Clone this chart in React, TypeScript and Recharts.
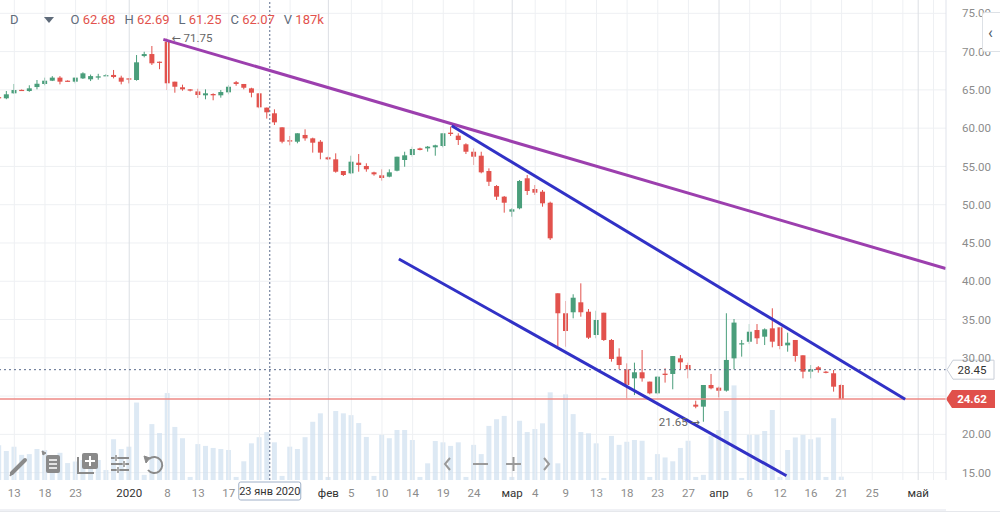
import {
  ComposedChart,
  Bar,
  XAxis,
  YAxis,
  CartesianGrid,
  ReferenceLine,
  ReferenceDot,
} from "recharts";

// daily candles (index 0 = leftmost, partly cut off)
const openP = [
  64.05, 63.9, 64.55, 65.0, 64.85, 65.37, 65.77, 66.2, 66.6, 66.2,
  66.07, 66.5, 66.38, 66.6, 66.85, 66.95, 66.6, 66.5, 66.29, 69.42,
  69.68, 68.68, 71.3, 66.07, 65.34, 65.07, 64.8, 64.29, 64.46, 64.29,
  64.68, 66.0, 65.77, 65.2, 64.55, 62.68, 61.94, 60.11, 58.42, 58.23,
  59.11, 58.67, 58.23, 56.19, 55.93, 54.4, 54.1, 55.49, 55.06, 54.23,
  53.84, 53.66, 54.44, 55.84, 56.49, 57.36, 57.36, 57.5, 57.67, 59.41,
  59.02, 57.89, 56.92, 56.4, 54.4, 52.44, 51.05, 49.09, 49.53, 53.45,
  52.05, 51.7, 50.26, 38.43, 35.82, 35.95, 37.25, 36.02, 32.98, 35.89,
  32.33, 30.15, 28.5, 27.32, 28.11, 26.89, 25.36, 27.93, 27.89, 29.93,
  29.06, 23.88, 23.62, 26.45, 26.1, 25.71, 29.93, 31.77, 32.1, 33.63,
  32.76, 33.85, 33.98, 31.63, 32.33, 30.33, 28.19, 28.76, 28.19, 27.98,
  26.45,
];
const highP = [
  64.1, 64.85, 65.77, 65.05, 65.6, 66.29, 66.6, 66.8, 66.8, 66.25,
  66.6, 67.3, 67.0, 67.1, 67.05, 67.6, 66.85, 66.55, 69.55, 69.98,
  70.73, 68.7, 71.75, 66.07, 65.68, 65.1, 65.15, 65.07, 64.55, 64.98,
  65.63, 66.16, 65.77, 65.28, 64.55, 62.69, 62.46, 60.11, 58.98, 59.33,
  59.85, 58.76, 58.45, 56.28, 56.71, 54.4, 56.4, 56.62, 55.41, 54.31,
  54.62, 54.62, 56.27, 56.92, 57.58, 57.45, 57.67, 57.84, 59.33, 60.2,
  59.33, 58.02, 57.36, 56.92, 54.75, 52.57, 51.14, 49.53, 53.23, 53.88,
  52.57, 51.92, 50.4, 38.43, 37.42, 38.3, 39.73, 36.38, 36.15, 35.89,
  32.46, 31.24, 29.28, 29.37, 31.02, 26.89, 27.63, 28.63, 30.23, 30.37,
  29.37, 24.4, 26.45, 27.89, 26.23, 35.82, 35.07, 32.33, 34.41, 34.41,
  33.85, 36.47, 33.98, 33.28, 32.33, 30.33, 29.06, 28.93, 28.28, 28.41,
  26.6,
];
const lowP = [
  63.9, 63.78, 64.5, 64.9, 64.75, 65.07, 65.6, 66.15, 65.72, 66.08,
  65.85, 66.42, 66.15, 66.33, 66.8, 66.5, 65.72, 65.85, 66.2, 69.25,
  68.25, 67.7, 64.98, 64.63, 64.89, 64.8, 63.94, 63.77, 63.64, 63.98,
  64.42, 65.54, 65.07, 64.03, 62.6, 61.25, 60.41, 58.02, 57.76, 58.02,
  58.36, 56.8, 55.93, 55.84, 54.18, 53.75, 54.0, 54.31, 54.31, 53.79,
  53.14, 53.58, 54.36, 54.96, 56.27, 57.1, 56.93, 56.4, 57.5, 58.98,
  57.8, 56.62, 55.19, 54.1, 52.44, 50.62, 48.96, 48.43, 49.4, 51.27,
  51.27, 49.74, 45.39, 31.45, 31.45, 35.16, 35.37, 32.46, 32.55, 32.2,
  29.5, 28.5, 24.71, 25.14, 26.89, 25.23, 25.23, 26.76, 25.89, 28.5,
  27.32, 23.41, 21.65, 25.89, 24.84, 25.58, 28.5, 30.15, 31.8, 31.8,
  31.67, 31.37, 31.11, 30.8, 29.5, 27.32, 27.32, 28.06, 27.97, 25.58,
  24.62,
];
const closeP = [
  63.95, 64.42, 64.98, 64.95, 65.2, 65.8, 66.2, 66.6, 66.07, 66.12,
  66.6, 67.16, 66.8, 66.77, 66.92, 66.68, 66.07, 66.43, 68.6, 69.68,
  68.47, 68.55, 65.86, 65.41, 65.07, 64.9, 64.33, 64.55, 64.29, 64.72,
  65.41, 65.77, 65.28, 64.63, 62.72, 62.07, 60.76, 58.23, 58.25, 59.33,
  58.67, 58.1, 56.8, 55.93, 54.31, 53.88, 55.62, 55.19, 54.63, 53.97,
  53.49, 54.23, 56.27, 56.45, 57.28, 57.15, 57.58, 57.76, 59.33, 59.24,
  58.45, 56.92, 56.27, 54.23, 53.0, 51.05, 50.26, 49.4, 53.1, 51.79,
  51.57, 50.18, 45.61, 35.82, 33.5, 37.85, 35.95, 32.63, 34.94, 32.33,
  29.85, 29.06, 26.45, 28.11, 27.32, 25.36, 27.54, 27.76, 30.23, 29.41,
  28.5, 23.62, 26.45, 26.02, 25.7, 29.72, 34.6, 31.9, 33.41, 32.55,
  33.72, 32.11, 31.54, 31.98, 30.24, 28.19, 28.5, 28.41, 28.06, 26.23,
  24.62,
];
// volume, thousands
const volumeK = [
  136, 113, 130, 98, 101, 121, 117, 78, 106, 66,
  72, 78, 66, 78, 39, 159, 121, 130, 302, 20,
  218, 183, 339, 207, 163, 12, 140, 133, 125, 121,
  117, 12, 73, 143, 167, 187, 147, 16, 130, 121,
  167, 227, 260, 12, 269, 260, 253, 222, 168, 16,
  176, 163, 195, 195, 156, 12, 65, 152, 147, 133,
  147, 12, 137, 101, 211, 237, 250, 12, 231, 187,
  199, 221, 342, 65, 334, 257, 187, 182, 143, 8,
  172, 137, 149, 156, 153, 12, 101, 88, 73, 125,
  153, 12, 20, 172, 195, 269, 369, 8, 176, 176,
  191, 273, 12, 117, 166, 176, 159, 166, 12, 241,
  13,
];

const tickIdx = [2, 6, 10, 17, 22, 26, 30, 43, 46, 50, 54, 58, 62, 67, 70, 74, 78, 82, 86, 90, 94, 98, 102, 106, 110, 114, 120];
const tickText = ["13", "18", "23", "2020", "8", "13", "17", "фев", "5", "10", "14", "19", "24", "мар", "4", "9", "13", "18", "23", "27", "апр", "6", "12", "16", "21", "25", "май"];
const monthLabels = ["2020", "фев", "мар", "апр", "май"];
const extraGrid = [14, 34, 38, 118, 122];
// 25.00 sits under the last-price tag, as in the source
const priceTicks = [15, 20, 30, 35, 40, 45, 50, 55, 60, 65, 70, 75];

const lastClose = 24.62;
const markPrice = 28.45;
const crossIdx = 35.35;
const crossDate = "23 янв 2020";
const header = [
  ["O", "62.68"],
  ["H", "62.69"],
  ["L", "61.25"],
  ["C", "62.07"],
  ["V", "187k"],
];

// hand-drawn trend lines (index, price)
const purpleLine = [{ x: 21.45, y: 71.6 }, { x: 123.6, y: 41.66 }];
const upperChannel = [{ x: 59.1, y: 60.32 }, { x: 118.3, y: 24.58 }];
const lowerChannel = [{ x: 52.2, y: 42.91 }, { x: 102.8, y: 14.6 }];

const GREEN = "#4a9e7b";
const RED = "#e2524d";

const rows = openP.map((o, i) => ({
  i,
  open: o,
  high: highP[i],
  low: lowP[i],
  close: closeP[i],
  range: [lowP[i], highP[i]],
  vol: volumeK[i],
}));

const Candle = (props: any) => {
  const { x, y, width, height, payload } = props;
  if (!payload) return null;
  const { open, close, high, low } = payload;
  const top = Math.min(y, y + height);
  const h = Math.abs(height);
  const span = high - low || 1;
  const py = (v: number) => top + ((high - v) / span) * h;
  const color = close >= open ? GREEN : RED;
  const cx = x + width / 2;
  const bTop = py(Math.max(open, close));
  const bH = Math.max(1.2, py(Math.min(open, close)) - bTop);
  return (
    <g>
      <line x1={cx} x2={cx} y1={top} y2={top + h} stroke={color} strokeWidth={1} />
      <rect x={x} y={bTop} width={width} height={bH} fill={color} />
    </g>
  );
};

const XTick = (p: any) => {
  const label = tickText[tickIdx.indexOf(p.payload.value)];
  const dark = monthLabels.includes(label);
  return (
    <text x={p.x} y={497} textAnchor="middle" fontSize={11.5} fill={dark ? "#333" : "#8c8c8c"}>
      {label}
    </text>
  );
};

export default function App() {
  return (
    <div
      style={{
        position: "absolute",
        left: 0,
        top: 0,
        width: 1000,
        height: 515,
        overflow: "hidden",
        background: "#fff",
        fontFamily: "Roboto, sans-serif",
      }}
    >
      <ComposedChart width={1000} height={511} data={rows} margin={{ top: 0, right: 0, bottom: 0, left: 0 }}>
        <CartesianGrid
          yAxisId="price"
          xAxisId="x"
          vertical={false}
          stroke="#eef0f3"
          horizontalValues={[15, 20, 25, 30, 35, 40, 45, 50, 55, 60, 65, 70, 75]}
        />
        <XAxis
          xAxisId="x"
          dataKey="i"
          type="number"
          domain={[0.1305, 123.63]}
          allowDataOverflow
          ticks={tickIdx}
          interval={0}
          tick={<XTick />}
          tickLine={false}
          axisLine={{ stroke: "#e0e3eb" }}
          height={31}
        />
        <XAxis xAxisId="vx" dataKey="i" type="number" domain={[0.1305, 123.63]} allowDataOverflow hide />
        <YAxis
          yAxisId="price"
          orientation="right"
          width={54}
          domain={[14.04, 76.74]}
          allowDataOverflow
          ticks={priceTicks}
          interval={0}
          tickFormatter={(v: number) => v.toFixed(2)}
          tick={{ fill: "#8c8c8c", fontSize: 11.5 }}
          tickLine={false}
          tickMargin={10}
          axisLine={{ stroke: "#e0e3eb" }}
        />
        <YAxis yAxisId="vol" domain={[0, 1872]} hide />

        {tickIdx.concat(extraGrid).map((t) => {
          const lbl = tickText[tickIdx.indexOf(t)];
          const dark = lbl !== undefined && monthLabels.includes(lbl);
          return (
            <ReferenceLine
              key={"g" + t}
              xAxisId="x"
              yAxisId="price"
              x={t}
              stroke={dark ? "#dcdfe4" : "#eef0f3"}
            />
          );
        })}

        <Bar
          xAxisId="vx"
          yAxisId="vol"
          dataKey="vol"
          barSize={5}
          fill="#cfe0ef"
          fillOpacity={0.7}
          isAnimationActive={false}
        />
        <Bar
          xAxisId="x"
          yAxisId="price"
          dataKey="range"
          barSize={5}
          shape={<Candle />}
          isAnimationActive={false}
        />

        <ReferenceLine
          xAxisId="x"
          yAxisId="price"
          y={lastClose}
          stroke="#ee8a86"
          strokeWidth={1.5}
          label={(p: any) => {
            const vb = p.viewBox;
            const x0 = vb.x + vb.width;
            const yc = vb.y;
            return (
              <g>
                <path
                  d={`M${x0} ${yc} L${x0 + 6} ${yc - 9} H${x0 + 49} V${yc + 9} H${x0 + 6} Z`}
                  fill="#e0504b"
                />
                <text x={x0 + 26} y={yc + 4} textAnchor="middle" fontSize={11.5} fontWeight={700} fill="#fff">
                  {lastClose.toFixed(2)}
                </text>
              </g>
            );
          }}
        />
        <ReferenceLine
          xAxisId="x"
          yAxisId="price"
          y={markPrice}
          stroke="#5a6b8c"
          strokeDasharray="2 3"
          label={(p: any) => {
            const vb = p.viewBox;
            const x0 = vb.x + vb.width;
            const yc = vb.y;
            return (
              <g>
                <path
                  d={`M${x0 + 1} ${yc} L${x0 + 7} ${yc - 9.5} H${x0 + 48} V${yc + 9.5} H${x0 + 7} Z`}
                  fill="#fff"
                  stroke="#c9ced8"
                />
                <text x={x0 + 26} y={yc + 4} textAnchor="middle" fontSize={11.5} fill="#333">
                  {markPrice.toFixed(2)}
                </text>
              </g>
            );
          }}
        />
        <ReferenceLine
          xAxisId="x"
          yAxisId="price"
          x={crossIdx}
          stroke="#5a6b8c"
          strokeDasharray="2 2"
          label={(p: any) => {
            const vb = p.viewBox;
            const xc = vb.x;
            const yb = vb.y + vb.height;
            return (
              <g>
                <rect x={xc - 31} y={yb + 2} width={62} height={18} rx={2} fill="#fff" stroke="#9fb0c8" />
                <text x={xc} y={yb + 15} textAnchor="middle" fontSize={11} fill="#333">
                  {crossDate}
                </text>
              </g>
            );
          }}
        />

        <ReferenceLine
          xAxisId="x"
          yAxisId="price"
          segment={purpleLine}
          stroke="#9c3fae"
          strokeWidth={3}
          ifOverflow="hidden"
        />
        <ReferenceLine
          xAxisId="x"
          yAxisId="price"
          segment={upperChannel}
          stroke="#3131c6"
          strokeWidth={3}
          ifOverflow="hidden"
        />
        <ReferenceLine
          xAxisId="x"
          yAxisId="price"
          segment={lowerChannel}
          stroke="#3131c6"
          strokeWidth={3}
          ifOverflow="hidden"
        />

        <ReferenceDot
          xAxisId="x"
          yAxisId="price"
          x={22}
          y={71.75}
          r={0}
          fill="none"
          stroke="none"
          label={(p: any) => (
            <text x={p.viewBox.x + 4} y={p.viewBox.y + 4} fontSize={11.5} fill="#666">
              <tspan fontFamily="DejaVu Sans" fontSize={11}>←</tspan> 71.75
            </text>
          )}
        />
        <ReferenceDot
          xAxisId="x"
          yAxisId="price"
          x={92}
          y={21.65}
          r={0}
          fill="none"
          stroke="none"
          label={(p: any) => (
            <text x={p.viewBox.x - 4} y={p.viewBox.y + 4} textAnchor="end" fontSize={11.5} fill="#666">
              21.65 <tspan fontFamily="DejaVu Sans" fontSize={11}>→</tspan>
            </text>
          )}
        />
      </ComposedChart>

      {/* header */}
      <div
        style={{
          position: "absolute",
          left: 10,
          top: 12,
          fontSize: 13,
          lineHeight: "16px",
          display: "flex",
          alignItems: "center",
          whiteSpace: "nowrap",
        }}
      >
        <span style={{ color: "#5f6b7a", marginRight: 24 }}>D</span>
        <svg width={12} height={8} style={{ marginRight: 16 }}>
          <path d="M1 1 L11 1 L6 7 Z" fill="#5f6b7a" />
        </svg>
        {header.map(([k, v]) => (
          <span key={k} style={{ marginRight: 9 }}>
            <span style={{ color: "#5f6b7a" }}>{k} </span>
            <span style={{ color: "#e2524d" }}>{v}</span>
          </span>
        ))}
      </div>

      {/* right collapse tab */}
      <div
        style={{
          position: "absolute",
          left: 982,
          top: 12,
          width: 22,
          height: 40,
          border: "1px solid #dde1e6",
          borderRadius: 3,
          background: "#fff",
          color: "#4a5563",
          fontSize: 16,
          lineHeight: "40px",
          paddingLeft: 5,
          boxSizing: "border-box",
        }}
      >
        ‹
      </div>

      {/* toolbar icons */}
      <svg width={600} height={40} style={{ position: "absolute", left: 0, top: 445 }}>
        <g fill="#8a8a8a" stroke="#8a8a8a">
          <path d="M12 28 L25 15" strokeWidth={4} strokeLinecap="round" fill="none" />
          <path d="M10 31 L11 27 L13 29 Z" strokeWidth={1} />
          <path d="M42 6 L46 8 L43 10 Z" strokeWidth={1} />
          <rect x={46} y={10} width={14} height={18} rx={2} stroke="none" />
          <path d="M49 15 H57 M49 19 H57 M49 23 H57" stroke="#fff" strokeWidth={1.5} />
          <path d="M78 12 V28 H94" fill="none" strokeWidth={2} />
          <rect x={82} y={8} width={16} height={16} rx={2} stroke="none" />
          <path d="M90 11 V21 M85 16 H95" stroke="#fff" strokeWidth={2} />
          <path d="M111 13 H129 M111 19 H129 M111 25 H129" fill="none" strokeWidth={2} />
          <path d="M116 10 V16 M124 16 V22 M118 22 V28" fill="none" strokeWidth={2.5} stroke="#fff" />
          <path d="M116 10 V16 M124 16 V22 M118 22 V28" fill="none" strokeWidth={1.5} />
          <path d="M149 14 A8 8 0 1 1 148 25" fill="none" strokeWidth={2} />
          <path d="M144 11 L150 13 L146 18 Z" strokeWidth={1} />
        </g>
        <g stroke="#9a9a9a" strokeWidth={2} fill="none">
          <path d="M450 13 L445 19 L450 25" />
          <path d="M473 19 H488" />
          <path d="M506 19 H521 M513.5 12 V26" />
          <path d="M544 13 L549 19 L544 25" />
        </g>
      </svg>

      {/* bottom border */}
      <div style={{ position: "absolute", left: 0, top: 511, width: 1000, height: 1, background: "#e6e8ec" }} />
    </div>
  );
}
